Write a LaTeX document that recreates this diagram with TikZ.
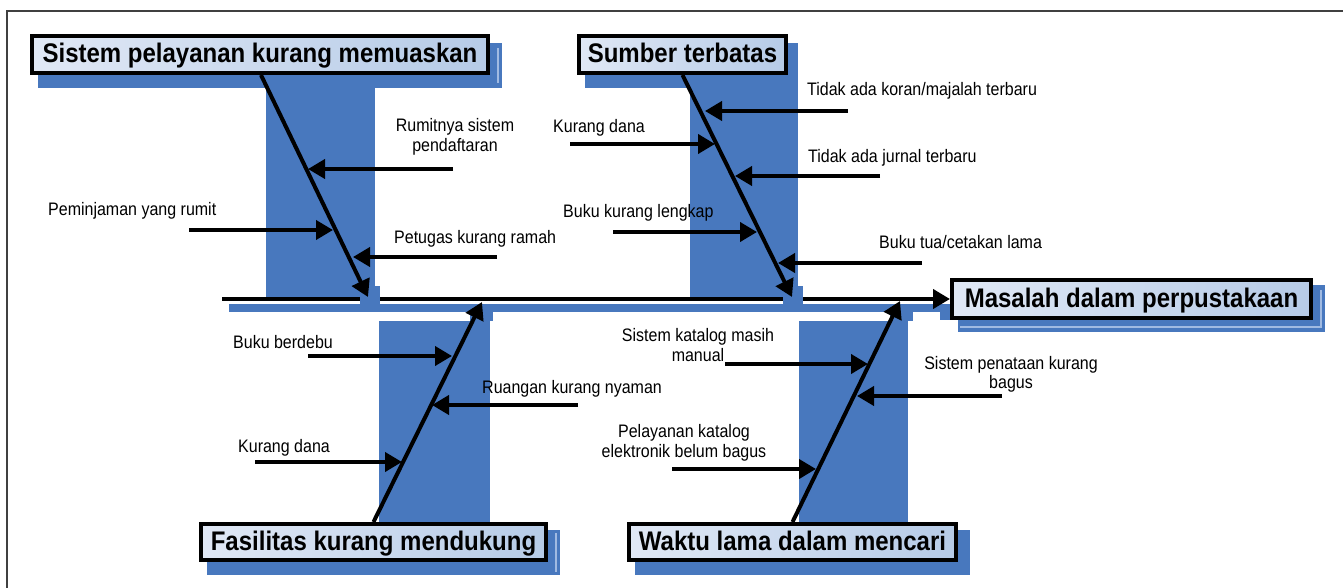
\documentclass[tikz,border=0pt]{standalone}
\usepackage{fontspec}
\setmainfont{Liberation Sans}
\usetikzlibrary{arrows.meta,calc}
\definecolor{shadowblue}{RGB}{72,120,190}
\definecolor{lightline}{RGB}{160,186,226}
\definecolor{boxL}{RGB}{224,232,245}
\definecolor{boxR}{RGB}{182,203,231}
\newcommand{\tallA}[1]{\scalebox{1}[1.12]{#1}}
\newcommand{\tallB}[1]{\scalebox{1}[1.13]{#1}}
\begin{document}
\begin{tikzpicture}[x=1pt,y=-1pt,
  titlebox/.style={draw=black, line width=4pt, left color=boxL, right color=boxR,
    font=\fontsize{24}{28}\selectfont\bfseries, inner sep=0pt, text height=20pt, text depth=4pt},
  lbl/.style={font=\fontsize{16}{19.5}\selectfont, inner sep=0pt},
  arr/.style={line width=4pt, -{Triangle[length=17pt,width=19pt]}},
  bluesh/.style={fill=shadowblue, draw=none},
  thinlight/.style={draw=lightline, line width=1.2pt},
]
\useasboundingbox (0,0) rectangle (1343,588);

% frame
\draw[line width=1.4pt, black!75] (7,588) -- (7,11) -- (1343,11);

% blue shadow shapes
\fill[bluesh] (38,43) rectangle (502,88);
\fill[bluesh] (266,88) rectangle (375,297);
\fill[bluesh] (585,43) rectangle (798,88);
\fill[bluesh] (690,88) rectangle (798,297);
\fill[bluesh] (229,304) rectangle (943,312);
\fill[bluesh] (940,304) rectangle (958,320);
\fill[bluesh] (958,285) rectangle (1325,332);
\fill[bluesh] (470,309) rectangle (493,321);
\fill[bluesh] (379,321) rectangle (490,530);
\fill[bluesh] (207,530) rectangle (560,575);
\fill[bluesh] (890,309) rectangle (913,321);
\fill[bluesh] (799,321) rectangle (908,530);
\fill[bluesh] (635,530) rectangle (970,575);
\draw[thinlight] (498,48) -- (498,83);
\draw[thinlight] (556,533) -- (556,572);
\draw[thinlight] (960,327) -- (1321,327) -- (1321,290);

% boxes
\node[titlebox, minimum width=456pt, minimum height=37pt] (b1) at (260,54.5) {\tallA{Sistem pelayanan kurang memuaskan}};
\node[titlebox, minimum width=207pt, minimum height=37pt] (b2) at (682.5,54.5) {\tallA{Sumber terbatas}};
\node[titlebox, minimum width=345pt, minimum height=36pt] (b3) at (373.5,542) {\tallA{Fasilitas kurang mendukung}};
\node[titlebox, minimum width=327pt, minimum height=36pt] (b4) at (792.5,542) {\tallA{Waktu lama dalam mencari}};
\node[titlebox, minimum width=359pt, minimum height=38pt] (main) at (1131.5,299) {\tallA{Masalah dalam perpustakaan}};

% spine
\coordinate (sL) at (222,299);
\draw[arr] (sL) -- (main.west);

% bits covering the spine
\fill[bluesh] (360,286) rectangle (380,304);
\fill[bluesh] (783,286) rectangle (803,304);

% branches
\coordinate (j1) at (368,297);
\coordinate (j2) at (792,297);
\coordinate (j3) at (482,302);
\coordinate (j4) at (900,301);
\draw[arr] (b1.south -| 261,0) -- (j1);
\draw[arr] (b2.south) -- (j2);
\draw[arr] (b3.north) -- (j3);
\draw[arr] (b4.north) -- (j4);

% ribs: branch 1
\coordinate (t1) at (453,169); \coordinate (h1) at (308,169);
\coordinate (t2) at (189,230); \coordinate (h2) at (333,230);
\coordinate (t3) at (497,257); \coordinate (h3) at (353,257);
% branch 2
\coordinate (t4) at (848,111); \coordinate (h4) at (705,111);
\coordinate (t5) at (570,144); \coordinate (h5) at (715,144);
\coordinate (t6) at (880,176); \coordinate (h6) at (735,176);
\coordinate (t7) at (613,232); \coordinate (h7) at (757,232);
\coordinate (t8) at (922,263); \coordinate (h8) at (778,263);
% branch 3
\coordinate (t9) at (308,356); \coordinate (h9) at (452,356);
\coordinate (t10) at (578,405); \coordinate (h10) at (432,405);
\coordinate (t11) at (255,462); \coordinate (h11) at (402,462);
% branch 4
\coordinate (t12) at (725,364); \coordinate (h12) at (868,364);
\coordinate (t13) at (1002,396); \coordinate (h13) at (857,396);
\coordinate (t14) at (672,469); \coordinate (h14) at (816,469);
\foreach \i in {1,...,14} { \draw[arr] (t\i) -- (h\i); }

% labels
\node[lbl, align=center] (L1) at (455,137) {\tallB{Rumitnya sistem}\\\tallB{pendaftaran}};
\node[lbl, anchor=base west] (L2) at (48,215) {\tallB{Peminjaman yang rumit}};
\node[lbl, anchor=base west] (L3) at (394,243) {\tallB{Petugas kurang ramah}};
\node[lbl, anchor=base west] (L4) at (807,96) {\tallB{Tidak ada koran/majalah terbaru}};
\node[lbl, anchor=base west] (L5) at (553,133) {\tallB{Kurang dana}};
\node[lbl, anchor=base west] (L6) at (808,163) {\tallB{Tidak ada jurnal terbaru}};
\node[lbl, anchor=base west] (L7) at (563,218) {\tallB{Buku kurang lengkap}};
\node[lbl, anchor=base west] (L8) at (879,248) {\tallB{Buku tua/cetakan lama}};
\node[lbl, anchor=base west] (L9) at (233,348) {\tallB{Buku berdebu}};
\node[lbl, anchor=base west] (L10) at (482,393) {\tallB{Ruangan kurang nyaman}};
\node[lbl, anchor=base west] (L11) at (238,452) {\tallB{Kurang dana}};
\node[lbl, align=center] (L12) at (698,345) {\tallB{Sistem katalog masih}\\\tallB{manual}};
\node[lbl, align=center] (L13) at (1011,374.5) {\tallB{Sistem penataan kurang}\\\tallB{bagus}};
\node[lbl, align=center] (L14) at (684,443) {\tallB{Pelayanan katalog}\\\tallB{elektronik belum bagus}};
\end{tikzpicture}
\end{document}
